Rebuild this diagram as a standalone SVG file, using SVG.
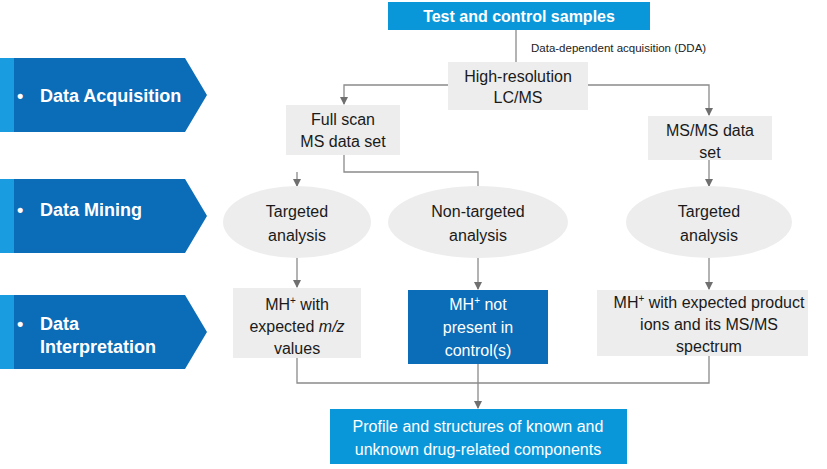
<svg xmlns="http://www.w3.org/2000/svg" width="827" height="469" viewBox="0 0 827 469">
<style>
text{font-family:"Liberation Sans",Arial,sans-serif;text-anchor:middle}
.blue{fill:#0a97da}.dark{fill:#0b6cb7}.gray{fill:#ededed}
.w{fill:#fff}.b{fill:#1a1a1a;font-size:16px}
.ban{fill:#fff;font-size:18px;font-weight:bold;text-anchor:start}
.c{fill:none;stroke:#8a8a8a;stroke-width:1.3}
</style>
<defs><marker id="a" markerWidth="8" markerHeight="8" refX="7" refY="4" orient="auto" markerUnits="userSpaceOnUse"><path d="M0,0L8,4L0,8z" fill="#6f6f6f"/></marker></defs>
<rect width="827" height="469" fill="#fff"/>
<g id="banner-acq"><rect x="0" y="58" width="14" height="74" fill="#1a9de0"/><path d="M14,58H185L207,95L185,132H14z" class="dark"/><text x="17" y="102" class="ban">•</text><text x="40" y="102" class="ban">Data Acquisition</text></g>
<g id="banner-min"><rect x="0" y="179" width="14" height="74" fill="#1a9de0"/><path d="M14,179H185L207,216L185,253H14z" class="dark"/><text x="17" y="216" class="ban">•</text><text x="40" y="216" class="ban">Data  Mining</text></g>
<g id="banner-int"><rect x="0" y="295" width="14" height="74" fill="#1a9de0"/><path d="M14,295H185L207,332L185,369H14z" class="dark"/><text x="17" y="330" class="ban">•</text><text x="40" y="330" class="ban">Data</text><text x="40" y="353" class="ban">Interpretation</text></g>
<g id="connectors">
<path class="c" d="M516,30V100" marker-end="url(#a)"/>
<path class="c" d="M448,85H344V104" marker-end="url(#a)"/>
<path class="c" d="M588,85H709V115" marker-end="url(#a)"/>
<path class="c" d="M344,155V172H478V186"/>
<path class="c" d="M297,172V186" marker-end="url(#a)"/>
<path class="c" d="M709,160V186" marker-end="url(#a)"/>
<path class="c" d="M297,258V287" marker-end="url(#a)"/>
<path class="c" d="M478,258V289" marker-end="url(#a)"/>
<path class="c" d="M709,258V289" marker-end="url(#a)"/>
<path class="c" d="M297,358V383H709V356"/>
<path class="c" d="M478,364V408" marker-end="url(#a)"/>
</g>
<text x="531" y="52" style="font-size:11.5px;text-anchor:start;fill:#222">Data-dependent acquisition (DDA)</text>
<g id="top"><rect x="388" y="2" width="262" height="28" class="blue"/><text x="519" y="22" class="w" style="font-size:16px;font-weight:bold">Test and control samples</text></g>
<g id="hr"><rect x="448" y="62" width="140" height="48" class="gray"/><text x="518" y="82" class="b">High-resolution</text><text x="518" y="103" class="b">LC/MS</text></g>
<g id="full"><rect x="286" y="105" width="114" height="50" class="gray"/><text x="343" y="125" class="b">Full scan</text><text x="343" y="147" class="b">MS data set</text></g>
<g id="msms"><rect x="648" y="116" width="124" height="44" class="gray"/><text x="710" y="136" class="b">MS/MS data</text><text x="710" y="158" class="b">set</text></g>
<g id="t1"><ellipse cx="297" cy="222" rx="74" ry="36" class="gray"/><text x="297" y="217" class="b">Targeted</text><text x="297" y="241" class="b">analysis</text></g>
<g id="nt"><ellipse cx="478" cy="222" rx="90" ry="36" class="gray"/><text x="478" y="217" class="b">Non-targeted</text><text x="478" y="241" class="b">analysis</text></g>
<g id="t2"><ellipse cx="709" cy="222" rx="83" ry="36" class="gray"/><text x="709" y="217" class="b">Targeted</text><text x="709" y="241" class="b">analysis</text></g>
<g id="r1"><rect x="233" y="288" width="128" height="70" class="gray"/><text x="297" y="310" class="b">MH<tspan dy="-6" style="font-size:10px">+</tspan><tspan dy="6">  with</tspan></text><text x="297" y="332" class="b">expected <tspan font-style="italic">m/z</tspan></text><text x="297" y="354" class="b">values</text></g>
<g id="r2"><rect x="408" y="290" width="140" height="74" class="dark"/><text x="478" y="310" class="w" style="font-size:16px">MH<tspan dy="-6" style="font-size:10px">+</tspan><tspan dy="6"> not</tspan></text><text x="478" y="333" class="w" style="font-size:16px">present in</text><text x="478" y="356" class="w" style="font-size:16px">control(s)</text></g>
<g id="r3"><rect x="597" y="290" width="211" height="66" class="gray"/><text x="709" y="308" class="b">MH<tspan dy="-6" style="font-size:10px">+</tspan><tspan dy="6"> with expected product</tspan></text><text x="709" y="330" class="b">ions and its MS/MS</text><text x="709" y="352" class="b">spectrum</text></g>
<g id="final"><rect x="330" y="409" width="297" height="55" class="blue"/><text x="478" y="432" class="w" style="font-size:16px">Profile and structures of known and</text><text x="478" y="455" class="w" style="font-size:16px">unknown drug-related components</text></g>
</svg>
